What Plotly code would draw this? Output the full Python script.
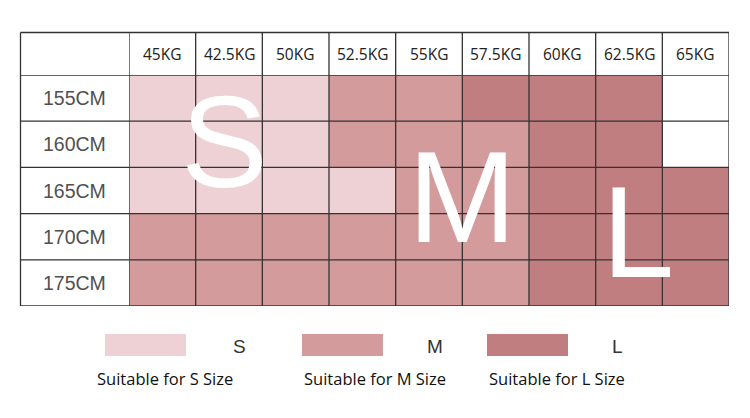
import plotly.graph_objects as go

# table data
weights = ["45KG", "42.5KG", "50KG", "52.5KG", "55KG", "57.5KG", "60KG", "62.5KG", "65KG"]
heights = ["155CM", "160CM", "165CM", "170CM", "175CM"]
sizes = [
    ["S", "S", "S", "M", "M", "L", "L", "L", ""],
    ["S", "S", "S", "M", "M", "M", "L", "L", ""],
    ["S", "S", "S", "S", "M", "M", "L", "L", "L"],
    ["M", "M", "M", "M", "M", "M", "L", "L", "L"],
    ["M", "M", "M", "M", "M", "M", "L", "L", "L"],
]
size_names = ["S", "M", "L"]
size_captions = ["Suitable for S Size", "Suitable for M Size", "Suitable for L Size"]

colors = {"": "#ffffff", "S": "#edd1d5", "M": "#d49b9d", "L": "#c17e80"}
code = {"": 0, "S": 1, "M": 2, "L": 3}
z = [[code[s] for s in row] for row in sizes]

W, H = 750, 418
ML, MR, MT, MB = 129, 21, 75, 112
PW, PH = W - ML - MR, H - MT - MB
HEADER_H = 42.5
LABEL_W = 108.5
LINE = "#333333"


def px(x):  # pixel -> paper x
    return (x - ML) / PW


def py(y):  # pixel -> paper y
    return (H - MB - y) / PH


fig = go.Figure(go.Heatmap(
    x=weights, y=heights, z=z, zmin=0, zmax=3,
    colorscale=[[0, colors[""]], [1 / 3, colors["S"]], [2 / 3, colors["M"]], [1, colors["L"]]],
    showscale=False, hoverinfo="skip",
))

top = 1 + HEADER_H / PH
left = -LABEL_W / PW
shapes = []
# vertical grid lines
for i in range(len(weights) + 1):
    shapes.append(dict(type="line", xref="x", yref="paper", x0=i - 0.5, x1=i - 0.5,
                       y0=0, y1=top, line=dict(color=LINE, width=1.3)))
shapes.append(dict(type="line", xref="paper", yref="paper", x0=left, x1=left,
                   y0=0, y1=top, line=dict(color=LINE, width=1.3)))
# horizontal grid lines
for j in range(len(heights) + 1):
    shapes.append(dict(type="line", xref="paper", yref="y", x0=left, x1=1,
                       y0=j - 0.5, y1=j - 0.5, line=dict(color=LINE, width=1.3)))
shapes.append(dict(type="line", xref="paper", yref="paper", x0=left, x1=1,
                   y0=top, y1=top, line=dict(color=LINE, width=1.3)))

annotations = []
for w in weights:
    annotations.append(dict(x=w, y=1, xref="x", yref="paper", yshift=HEADER_H / 2,
                            text=w, showarrow=False, xanchor="center", yanchor="middle",
                            font=dict(family="Open Sans", size=15.5, color="#222222")))
for h in heights:
    annotations.append(dict(x=0, y=h, xref="paper", yref="y", xshift=-LABEL_W / 2,
                            text=h, showarrow=False, xanchor="center", yanchor="middle",
                            font=dict(family="Liberation Sans", size=19.5, color="#505050")))

# big size letters over the table
big = [("S", 0.93, 0.96), ("M", 4.49, 2.13), ("L", 7.14, 2.9)]
for t, bx, by in big:
    annotations.append(dict(x=bx, y=by, xref="x", yref="y", text=t, showarrow=False,
                            xanchor="center", yanchor="middle",
                            font=dict(family="Liberation Sans", size=130, color="white")))

# legend under the table
rect_left = [105, 302, 487]
letter_x = [239, 435, 617]
caption_x = [165, 375, 557]
for k, s in enumerate(size_names):
    shapes.append(dict(type="rect", xref="paper", yref="paper",
                       x0=px(rect_left[k]), x1=px(rect_left[k] + 81),
                       y0=py(356), y1=py(334), fillcolor=colors[s], line=dict(width=0)))
    annotations.append(dict(x=px(letter_x[k]), y=py(346), xref="paper", yref="paper",
                            text=s, showarrow=False, xanchor="center", yanchor="middle",
                            font=dict(family="Liberation Sans", size=19, color="#333333")))
    annotations.append(dict(x=px(caption_x[k]), y=py(378), xref="paper", yref="paper",
                            text=size_captions[k], showarrow=False,
                            xanchor="center", yanchor="middle",
                            font=dict(family="Open Sans", size=16.5, color="#111111")))

fig.update_layout(
    width=W, height=H,
    margin=dict(l=ML, r=MR, t=MT, b=MB),
    paper_bgcolor="white", plot_bgcolor="white",
    xaxis=dict(visible=False, range=[-0.5, len(weights) - 0.5]),
    yaxis=dict(visible=False, range=[len(heights) - 0.5, -0.5]),
    shapes=shapes, annotations=annotations,
)

# drop the default page margin so the figure sits at the window corner
fig.write_html("out.html", config={"displayModeBar": False},
               post_script="document.body.style.margin = '0';")
